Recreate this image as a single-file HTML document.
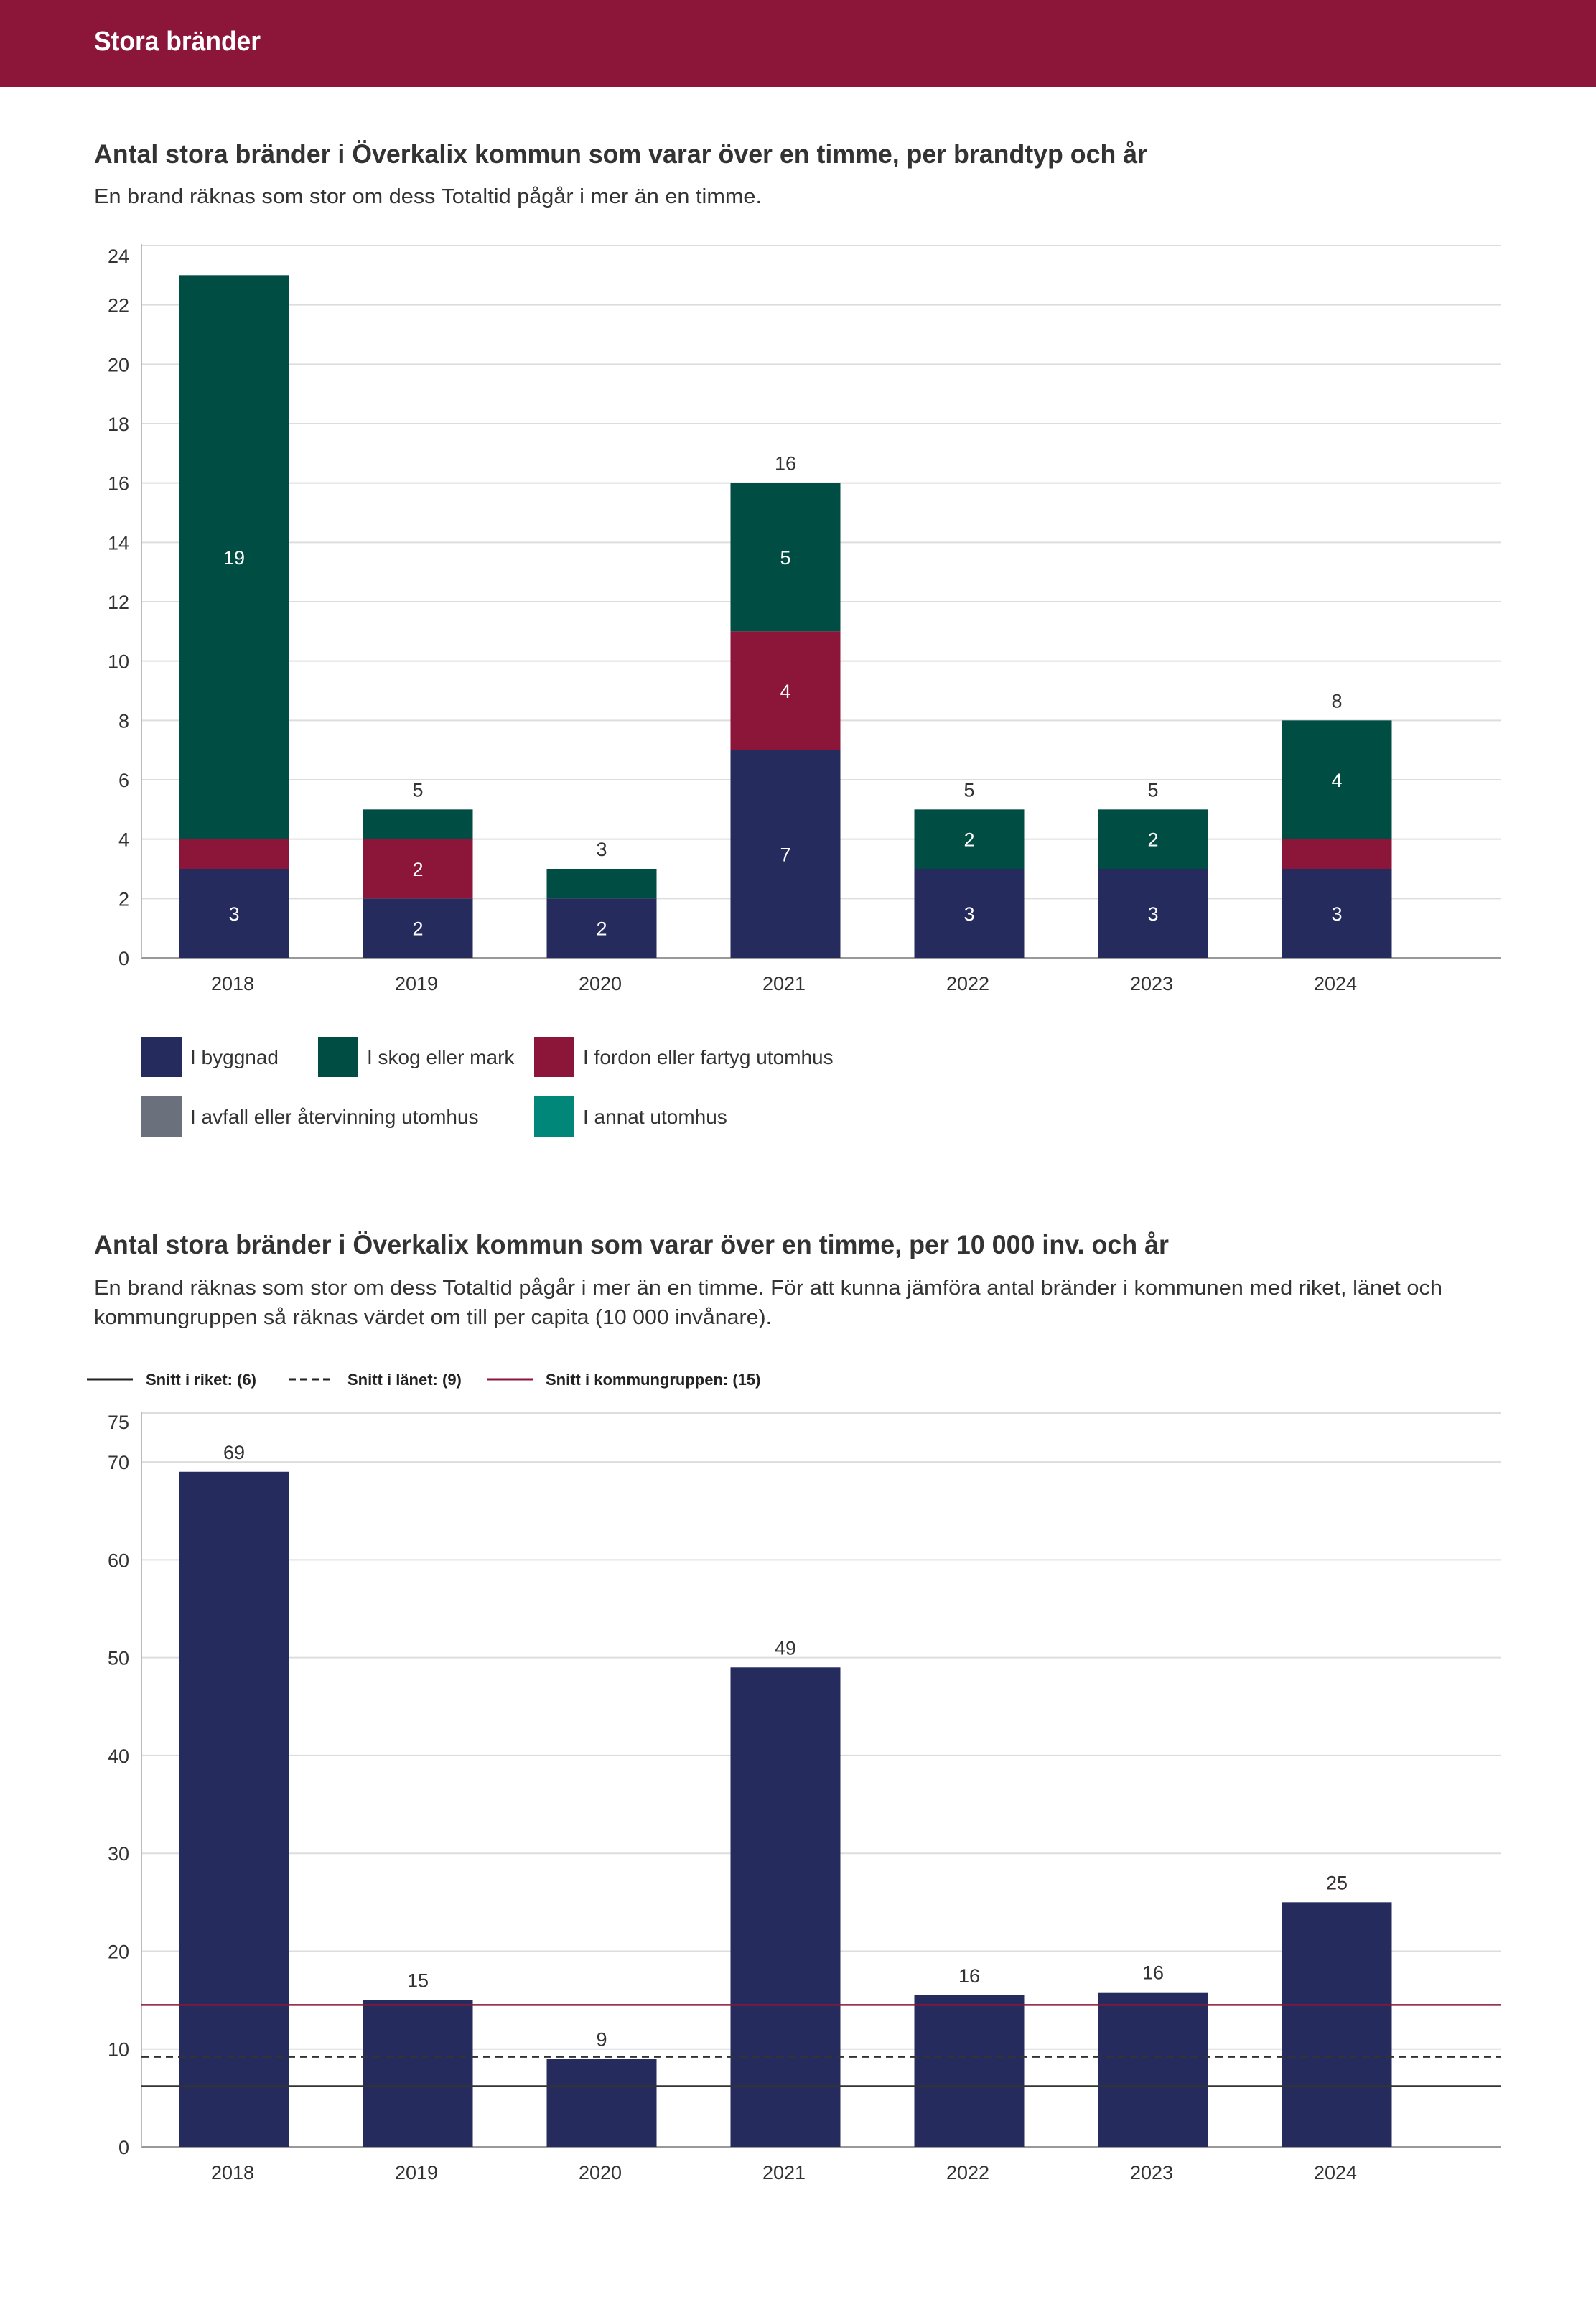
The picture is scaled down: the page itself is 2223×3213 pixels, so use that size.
<!DOCTYPE html>
<html><head><meta charset="utf-8"><style>
html,body{margin:0;padding:0;background:#fff;}
svg{display:block;font-family:"Liberation Sans",sans-serif;}
</style></head><body>
<svg id="page" width="2223" height="3213" viewBox="0 0 2223 3213" xmlns="http://www.w3.org/2000/svg">
<rect x="0" y="0" width="2223" height="121" fill="#8c1639"/>
<text x="131" y="70" font-size="38" font-weight="bold" fill="#fff" textLength="232" lengthAdjust="spacingAndGlyphs">Stora bränder</text>

<text x="131" y="227" font-size="37" font-weight="bold" fill="#333" textLength="1467" lengthAdjust="spacingAndGlyphs">Antal stora bränder i Överkalix kommun som varar över en timme, per brandtyp och år</text>
<text x="131" y="283" font-size="29" fill="#333" textLength="930" lengthAdjust="spacingAndGlyphs">En brand räknas som stor om dess Totaltid pågår i mer än en timme.</text>
<g id="c1"></g>
<g id="leg1"></g>

<text x="131" y="1746" font-size="37" font-weight="bold" fill="#333" textLength="1497" lengthAdjust="spacingAndGlyphs">Antal stora bränder i Överkalix kommun som varar över en timme, per 10 000 inv. och år</text>
<text x="131" y="1803" font-size="29" fill="#333" textLength="1878" lengthAdjust="spacingAndGlyphs">En brand räknas som stor om dess Totaltid pågår i mer än en timme. För att kunna jämföra antal bränder i kommunen med riket, länet och</text>
<text x="131" y="1844" font-size="29" fill="#333" textLength="944" lengthAdjust="spacingAndGlyphs">kommungruppen så räknas värdet om till per capita (10 000 invånare).</text>
<g id="leg2"></g>
<g id="c2"></g>
</svg>
<script>
const NS="http://www.w3.org/2000/svg";
const years=["2018","2019","2020","2021","2022","2023","2024"];
const byggnad=[3,2,2,7,3,3,3];
const fordon=[1,2,0,4,0,0,1];
const skog=[19,1,1,5,2,2,4];
const totals1=[null,5,3,16,5,5,8];
const ticks1=[0,2,4,6,8,10,12,14,16,18,20,22,24];
const perCapita=[69,15,9,49,15.5,15.8,25];
const perCapitaLabels=["69","15","9","49","16","16","25"];
const ticks2=[0,10,20,30,40,50,60,70,75];
const avgRiket=6.2, avgLanet=9.2, avgGrupp=14.5;

function mk(tag,attrs,parent,text){const e=document.createElementNS(NS,tag);for(const k in attrs)e.setAttribute(k,attrs[k]);if(text!==undefined)e.textContent=text;parent.appendChild(e);return e;}
const C={bygg:"#252b5c",skog:"#004d44",ford:"#8c1639",avf:"#6b717c",ann:"#00877a"};
const TXT="#333";
const x=i=>326+256*i, BW=153;

// Chart 1
const c1=document.getElementById('c1');
const y1=v=>1334-v*(992/24);
ticks1.forEach(t=>{
  const l=mk('line',{x1:197,x2:2090,y1:y1(t),y2:y1(t),stroke:t===0?"#999":"#ddd","stroke-width":2},c1);
  
  
  const ty=t===24?y1(t)+24:y1(t)+10;
  const tx=mk('text',{x:180,y:ty,"font-size":27,fill:TXT,"text-anchor":"end"},c1,String(t));
  
  
});
{const a=mk('line',{x1:197,x2:197,y1:340,y2:1334,stroke:"#bbb","stroke-width":2},c1);

}
years.forEach((yr,i)=>{
  const segs=[[byggnad[i],C.bygg],[fordon[i],C.ford],[skog[i],C.skog]];
  let base=0;
  segs.forEach(([v,col])=>{
    if(v<=0)return;
    const r=mk('rect',{x:x(i)-BW/2,y:y1(base+v),width:BW,height:y1(base)-y1(base+v),fill:col},c1);
    
    
    if(v>=2){
      const t=mk('text',{x:x(i),y:(y1(base)+y1(base+v))/2+10,"font-size":27,fill:"#fff","text-anchor":"middle"},c1,String(v));
      
      
    }
    base+=v;
  });
  if(totals1[i]!==null){
    const t=mk('text',{x:x(i),y:y1(totals1[i])-18,"font-size":27,fill:TXT,"text-anchor":"middle"},c1,String(totals1[i]));
    
    
  }
  const xl=mk('text',{x:x(i)-2,y:1379,"font-size":27,fill:TXT,"text-anchor":"middle"},c1,yr);
  
  
});

// Legend 1
const leg1=document.getElementById('leg1');
const legItems=[["I byggnad",C.bygg,197,1444],["I skog eller mark",C.skog,443,1444],["I fordon eller fartyg utomhus",C.ford,744,1444],["I avfall eller återvinning utomhus",C.avf,197,1527],["I annat utomhus",C.ann,744,1527]];
legItems.forEach(([lab,col,lx,ly])=>{
  const g=mk('g',{},leg1);
  
  
  mk('rect',{x:lx,y:ly,width:56,height:56,fill:col},g);
  mk('text',{x:lx+68,y:ly+38,"font-size":28,fill:TXT},g,lab);
});

// Legend 2
const leg2=document.getElementById('leg2');
[["Snitt i riket: (6)","#222",null,121],["Snitt i länet: (9)","#222","10,6",402],["Snitt i kommungruppen: (15)","#8c1639",null,678]].forEach(([lab,col,dash,lx])=>{
  const g=mk('g',{},leg2);
  
  
  const a={x1:lx,x2:lx+64,y1:1921,y2:1921,stroke:col,"stroke-width":3};
  if(dash)a["stroke-dasharray"]=dash;
  mk('line',a,g);
  mk('text',{x:lx+82,y:1929,"font-size":22,"font-weight":"bold",fill:"#222"},g,lab);
});

// Chart 2
const c2=document.getElementById('c2');
const y2=v=>2990-v*(1022/75);
ticks2.forEach(t=>{
  const l=mk('line',{x1:197,x2:2090,y1:y2(t),y2:y2(t),stroke:t===0?"#999":"#ddd","stroke-width":2},c2);
  
  
  const ty=t===75?y2(t)+22:y2(t)+10;
  const tx=mk('text',{x:180,y:ty,"font-size":27,fill:TXT,"text-anchor":"end"},c2,String(t));
  
  
});
{const a=mk('line',{x1:197,x2:197,y1:1967,y2:2990,stroke:"#bbb","stroke-width":2},c2);

}
years.forEach((yr,i)=>{
  const r=mk('rect',{x:x(i)-BW/2,y:y2(perCapita[i]),width:BW,height:2990-y2(perCapita[i]),fill:C.bygg},c2);
  
  
  const t=mk('text',{x:x(i),y:y2(perCapita[i])-18,"font-size":27,fill:TXT,"text-anchor":"middle"},c2,perCapitaLabels[i]);
  
  
  const xl=mk('text',{x:x(i)-2,y:3035,"font-size":27,fill:TXT,"text-anchor":"middle"},c2,yr);
  
  
});
[[avgRiket,"#333",null,'riket-average-line'],[avgLanet,"#333","10,7",'lanet-average-line'],[avgGrupp,"#8c1639",null,'kommungrupp-average-line']].forEach(([v,col,dash,nm])=>{
  const a={x1:197,x2:2090,y1:y2(v),y2:y2(v),stroke:col,"stroke-width":2.5};
  if(dash)a["stroke-dasharray"]=dash;
  const l=mk('line',a,c2);
  
  
});
</script>
</body></html>
